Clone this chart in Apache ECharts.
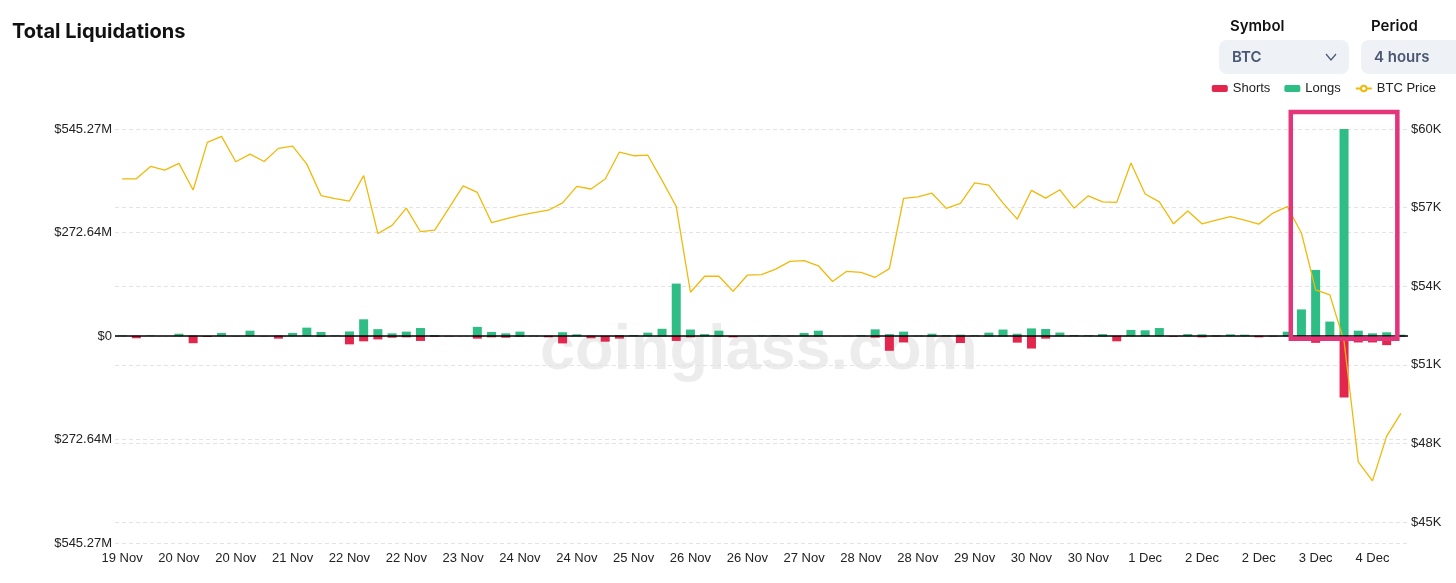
<!DOCTYPE html>
<html>
<head>
<meta charset="utf-8">
<script src="https://cdn.jsdelivr.net/npm/echarts@6/dist/echarts.min.js"></script>
<style>
html,body{margin:0;padding:0;background:#fff;}
#chart{width:1456px;height:583px;}
</style>
</head>
<body>
<div id="chart"></div>
<script>
// ---- data (4-hour buckets) ----
const categories = [
'19 Nov 08:00','19 Nov 12:00','19 Nov 16:00','19 Nov 20:00',
'20 Nov 00:00','20 Nov 04:00','20 Nov 08:00','20 Nov 12:00','20 Nov 16:00','20 Nov 20:00',
'21 Nov 00:00','21 Nov 04:00','21 Nov 08:00','21 Nov 12:00','21 Nov 16:00','21 Nov 20:00',
'22 Nov 00:00','22 Nov 04:00','22 Nov 08:00','22 Nov 12:00','22 Nov 16:00','22 Nov 20:00',
'23 Nov 00:00','23 Nov 04:00','23 Nov 08:00','23 Nov 12:00','23 Nov 16:00','23 Nov 20:00',
'24 Nov 00:00','24 Nov 04:00','24 Nov 08:00','24 Nov 12:00','24 Nov 16:00','24 Nov 20:00',
'25 Nov 00:00','25 Nov 04:00','25 Nov 08:00','25 Nov 12:00','25 Nov 16:00','25 Nov 20:00',
'26 Nov 00:00','26 Nov 04:00','26 Nov 08:00','26 Nov 12:00','26 Nov 16:00','26 Nov 20:00',
'27 Nov 00:00','27 Nov 04:00','27 Nov 08:00','27 Nov 12:00','27 Nov 16:00','27 Nov 20:00',
'28 Nov 00:00','28 Nov 04:00','28 Nov 08:00','28 Nov 12:00','28 Nov 16:00','28 Nov 20:00',
'29 Nov 00:00','29 Nov 04:00','29 Nov 08:00','29 Nov 12:00','29 Nov 16:00','29 Nov 20:00',
'30 Nov 00:00','30 Nov 04:00','30 Nov 08:00','30 Nov 12:00','30 Nov 16:00','30 Nov 20:00',
'1 Dec 00:00','1 Dec 04:00','1 Dec 08:00','1 Dec 12:00','1 Dec 16:00','1 Dec 20:00',
'2 Dec 00:00','2 Dec 04:00','2 Dec 08:00','2 Dec 12:00','2 Dec 16:00','2 Dec 20:00',
'3 Dec 00:00','3 Dec 04:00','3 Dec 08:00','3 Dec 12:00','3 Dec 16:00','3 Dec 20:00',
'4 Dec 00:00','4 Dec 04:00','4 Dec 08:00'
];

// Longs liquidations, $M (plotted upward)
const longs = [
1.5, 0.8, 1.5, 0, 6, 1.5, 0.5, 8, 0.5, 14,
0.5, 1.5, 8, 22, 10.5, 1.5, 12, 44, 18, 7,
11.5, 21, 2.5, 0.5, 0.3, 24, 10.5, 7, 11.5, 1,
1, 10, 4.4, 1, 0.5, 2.6, 2.6, 8.8, 19, 138,
17, 5, 14, 0.5, 0.3, 1, 2, 1, 8, 14,
0.3, 0.5, 2, 17.5, 5, 11.5, 1, 6, 2, 3.5,
2, 8.8, 17, 6, 20, 18.5, 9, 2.6, 2, 5,
0.5, 16, 15, 21, 0.5, 5, 4.4, 2, 4.4, 3.5,
1, 1, 11.4, 70, 174, 38, 545.27, 14, 7, 9.7,
3.5
];

// Shorts liquidations, $M (plotted downward)
const shorts = [
-0.5, -6, 0, 0, -0.5, -19, -2.5, -0.5, -1, -0.5,
-1, -7, -0.5, -0.5, -2, -0.3, -22, -14, -9, -4.5,
-3.5, -13, -2, -1, -0.3, -7, -3.5, -4.5, -2, -0.5,
-3.5, -19.5, -0.5, -6, -15, -7, -0.5, -0.5, -1, -13,
-3.5, -0.5, -1.5, -3.5, -0.3, -0.3, -0.3, -0.5, -0.5, -1,
-0.3, -0.5, -0.5, -4.4, -39, -17, -0.5, -1, -0.5, -18.5,
-0.5, -1, -1, -17.5, -33, -7, -0.5, -0.5, -0.5, -1,
-14, -0.5, -0.5, -0.5, -2, -0.5, -3.5, -1.5, -0.5, -0.5,
-3.5, -1.5, -0.5, -1, -18, -1, -162, -17, -17, -24,
-2
];

// BTC price, USD
const btcPrice = [
58100, 58100, 58570, 58430, 58690, 57670, 59490, 59720, 58750, 59040,
58760, 59260, 59350, 58660, 57460, 57340, 57250, 58220, 56010, 56320,
56980, 56080, 56140, 56980, 57830, 57580, 56430, 56570, 56700, 56810,
56900, 57180, 57810, 57710, 58090, 59120, 58980, 59000, 58040, 57040,
53770, 54380, 54380, 53810, 54420, 54440, 54650, 54950, 54980, 54780,
54180, 54570, 54530, 54340, 54670, 57350, 57410, 57550, 56970, 57160,
57940, 57860, 57170, 56560, 57660, 57360, 57680, 56980, 57450, 57220,
57200, 58700, 57520, 57220, 56380, 56870, 56380, 56520, 56660, 56520,
56370, 56790, 57040, 56030, 53860, 53670, 51900, 47300, 46570, 48280,
49150
];

// Axis ticks
const leftMax = 545.27;
const leftTickLabels = ['$545.27M', '$272.64M', '$0', '$272.64M', '$545.27M']; // bottom -> top
const rightMin = 44200, rightMax = 60000, rightStep = 3000;

// Highlighted period (category range, in band units)
const highlightFrom = 82, highlightTo = 90;

const FONT = '"Liberation Sans", Arial, Helvetica, sans-serif';
const chart = echarts.init(document.getElementById('chart'), null, {renderer: 'canvas'});

const baseGraphic = [
  {id: 'wm', type: 'text', left: 540, top: 320, z: -10, silent: true,
   style: {text: 'coinglass.com', font: 'bold 63px "Liberation Sans", Arial, sans-serif', fill: 'rgba(0,0,0,0.075)'}},
  {id: 'symLbl', type: 'text', x: 1230, y: 26, style: {text: 'Symbol', font: '600 15px Inter, "Noto Sans", sans-serif', fill: '#111', verticalAlign: 'middle'}},
  {id: 'perLbl', type: 'text', x: 1371, y: 26, style: {text: 'Period', font: '600 15px Inter, "Noto Sans", sans-serif', fill: '#111', verticalAlign: 'middle'}},
  {id: 'symBox', type: 'rect', shape: {x: 1219, y: 40, width: 130, height: 34, r: 8}, style: {fill: '#eef1f6'}},
  {id: 'symTxt', type: 'text', x: 1232, y: 57, style: {text: 'BTC', font: '600 15px Inter, "Noto Sans", sans-serif', fill: '#4a5772', verticalAlign: 'middle'}},
  {id: 'chev', type: 'polyline', shape: {points: [[1326, 54], [1331, 60], [1336, 54]]}, style: {stroke: '#4a5772', lineWidth: 1.2, fill: null}},
  {id: 'perBox', type: 'rect', shape: {x: 1361, y: 40, width: 110, height: 34, r: 8}, style: {fill: '#eef1f6'}},
  {id: 'perTxt', type: 'text', x: 1374, y: 57, style: {text: '4 hours', font: '600 15px Inter, "Noto Sans", sans-serif', fill: '#4a5772', verticalAlign: 'middle'}}
];

const option = {
  animation: false,
  backgroundColor: '#fff',
  textStyle: {fontFamily: FONT},
  title: {
    text: 'Total Liquidations', left: 7, top: 17,
    textStyle: {fontFamily: 'Inter, "Noto Sans", sans-serif', fontSize: 20, fontWeight: 700, color: '#111'}
  },
  legend: {
    right: 15, top: 77, itemWidth: 16, itemHeight: 7, itemGap: 14,
    textStyle: {fontFamily: FONT, fontSize: 13, color: '#222'},
    data: ['Shorts', 'Longs', 'BTC Price']
  },
  grid: {left: 115, right: 48, top: 129, bottom: 40, containLabel: false},
  xAxis: {
    type: 'category', data: categories, boundaryGap: true,
    axisLine: {show: false}, axisTick: {show: false},
    axisLabel: {interval: 3, margin: 9, color: '#222', fontSize: 13, fontFamily: FONT,
      formatter: v => v.split(' ').slice(0, 2).join(' ')},
    splitLine: {show: false}
  },
  yAxis: [
    {
      type: 'value', min: -leftMax, max: leftMax, interval: leftMax / 2,
      axisLine: {show: false}, axisTick: {show: false},
      axisLabel: {margin: 3, color: '#222', fontSize: 13, fontFamily: FONT,
        formatter: v => leftTickLabels[Math.round(v / (leftMax / 2)) + 2]},
      splitLine: {show: true, lineStyle: {color: '#e3e3e3', type: [4, 3], width: 1}}
    },
    {
      type: 'value', min: rightMin, max: rightMax, splitNumber: 5,
      axisLine: {show: false}, axisTick: {show: false},
      axisLabel: {margin: 3, color: '#222', fontSize: 13, fontFamily: FONT,
        formatter: v => (v % rightStep === 0 ? '$' + (v / 1000) + 'K' : '')},
      splitLine: {show: true, lineStyle: {color: '#e3e3e3', type: [4, 3], width: 1}}
    }
  ],
  series: [
    {
      name: 'Shorts', type: 'bar', stack: 'liq', data: shorts, barWidth: 9,
      itemStyle: {color: '#e3264e'}
    },
    {
      name: 'Longs', type: 'bar', stack: 'liq', data: longs, barWidth: 9,
      itemStyle: {color: '#2ebd85'},
      markLine: {
        silent: true, symbol: 'none', label: {show: false},
        lineStyle: {color: '#000', type: 'solid', width: 1.5},
        data: [{yAxis: 0}]
      }
    },
    {
      name: 'BTC Price', type: 'line', yAxisIndex: 1, data: btcPrice,
      showSymbol: false, symbol: 'emptyCircle', z: 4,
      itemStyle: {color: '#f0b90b'},
      lineStyle: {color: '#f0b90b', width: 1.3}
    }
  ],
  graphic: baseGraphic
};
chart.setOption(option);

// Highlight box positioned via the chart's own scales
const c0 = chart.convertToPixel({xAxisIndex: 0}, categories[highlightFrom]);
const c1 = chart.convertToPixel({xAxisIndex: 0}, categories[highlightFrom + 1]);
const bw = c1 - c0;
const xL = c0 + bw * 0.25;
const xR = chart.convertToPixel({xAxisIndex: 0}, categories[highlightTo]) - bw * 0.25;
const yT = chart.convertToPixel({yAxisIndex: 0}, leftMax * 1.082);
const yB = chart.convertToPixel({yAxisIndex: 0}, -leftMax * 0.013);
chart.setOption({
  graphic: baseGraphic.concat([{
    id: 'hl', type: 'rect', z: 10, silent: true,
    shape: {x: xL, y: yT, width: xR - xL, height: yB - yT},
    style: {fill: null, stroke: '#e2357a', lineWidth: 4.5}
  }])
});
</script>
</body>
</html>
